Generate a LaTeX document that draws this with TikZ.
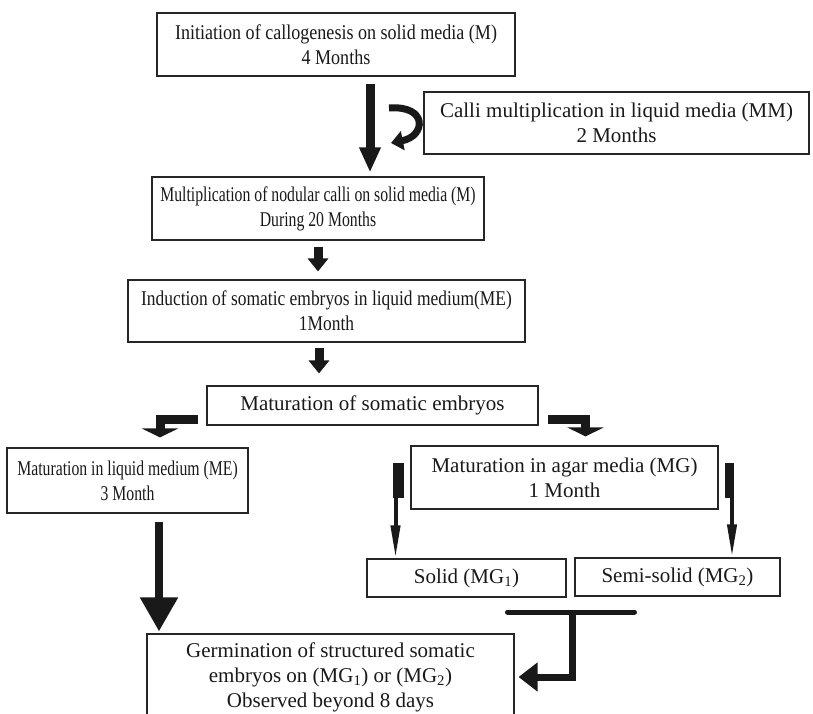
\documentclass[tikz,border=0pt]{standalone}
\usepackage{fontspec}
\setmainfont{Liberation Serif}
\newfontfamily\narrowA[FakeStretch=0.86]{Liberation Serif}
\newfontfamily\narrowB[FakeStretch=0.75]{Liberation Serif}
\newfontfamily\narrowC[FakeStretch=0.83]{Liberation Serif}
\usepackage{tikz}
\usetikzlibrary{arrows.meta}
\tikzset{>=latex}

\begin{document}
\begin{tikzpicture}[x=1pt, y=-1pt, font=\fontsize{21}{25}\selectfont]
  % B = boxes (top to bottom), fat = block arrow, stem = thin arrow under a black bar
  \tikzstyle{every node}=[draw=black!85, line width=1.1pt, align=center, inner sep=0pt, text=black!90]
  \tikzstyle{fat}=[draw=black!90, line width=9pt, -{Triangle[length=13pt, width=20pt]}]
  \tikzstyle{stem}=[draw=black!90, line width=4pt, -{Triangle[length=33pt, width=9pt]}]
  \useasboundingbox (0,0) rectangle (813,714);

  \node[minimum width=358pt, minimum height=63pt, font=\fontsize{21}{25}\narrowA] (B1) at (336,44.5) {Initiation of callogenesis on solid media (M)\\4 Months};
  \node[minimum width=385pt, minimum height=62pt] (B2) at (616.5,123) {Calli multiplication in liquid media (MM)\\2 Months};
  \node[minimum width=332pt, minimum height=63pt, font=\fontsize{21}{25}\narrowB] (B3) at (318,208.5) {Multiplication of nodular calli on solid media (M)\\During 20 Months};
  \node[minimum width=397pt, minimum height=62pt, font=\fontsize{21}{25}\narrowC] (B4) at (326.5,311) {Induction of somatic embryos in liquid medium(ME)\\1Month};
  \node[minimum width=331pt, minimum height=39pt] (B5) at (372.5,405.5) {Maturation of somatic embryos};
  \node[minimum width=241pt, minimum height=65pt, font=\fontsize{21}{25}\narrowB] (B6) at (127.5,480.5) {Maturation in liquid medium (ME)\\3 Month};
  \node[minimum width=307pt, minimum height=63pt] (B7) at (564.5,477.5) {Maturation in agar media (MG)\\1 Month};
  \node[minimum width=199pt, minimum height=38pt] (B8) at (466.5,578) {Solid (MG\textsubscript{1})};
  \node[minimum width=205pt, minimum height=38pt] (B9) at (677.5,577) {Semi-solid (MG\textsubscript{2})};
  \node[minimum width=367pt, minimum height=86pt] (B10) at (330.5,677) {Germination of structured somatic\\embryos on (MG\textsubscript{1}) or (MG\textsubscript{2})\\Observed beyond 8 days};

  \draw[fat, -{Triangle[length=25pt, width=20pt]}, shorten <=7pt, shorten >=4pt] ([xshift=34pt]B1.south) -- ([xshift=52pt]B3.north);
  \coordinate (c1) at (389,108);
  \coordinate (c2) at (391,143);
  \draw[fat, line width=7pt, -{Triangle[length=12pt, width=19pt]}] (c1) .. controls (428,105) and (426,136) .. (c2);

  \draw[fat, shorten <=6pt, shorten >=8pt] (B3.south) -- (B3.south |- B4.north);
  \draw[fat, shorten <=5pt, shorten >=12pt] ([xshift=-7.5pt]B4.south) -- ([xshift=-7.5pt]B4.south |- B5.north);

  \draw[fat, -{Triangle[length=9pt, width=36pt]}, shorten <=8pt, shorten >=10pt] ([yshift=-13.5pt]B5.west) -| ([xshift=32.5pt]B6.north);
  \draw[fat, -{Triangle[length=9pt, width=36pt]}, shorten <=9pt, shorten >=9pt] ([yshift=-13.5pt]B5.east) -| ([xshift=21pt]B7.north);

  \draw[fat, line width=8pt, -{Triangle[length=34pt, width=36pt]}, shorten <=8pt, shorten >=2pt] ([xshift=31.5pt]B6.south) -- ([xshift=31.5pt]B6.south |- B10.north);

  \coordinate (s1) at (398.5,463);
  \coordinate (s2) at (729.5,463);
  \draw[draw=black!90, line width=11pt] (s1) -- ++(0,35);
  \draw[draw=black!90, line width=9pt] (s2) -- ++(0,35);
  \draw[stem] ([xshift=-3pt]s1) -- ([xshift=-3pt]s1 |- B8.north);
  \draw[stem] ([xshift=2.5pt]s2) -- ([xshift=2.5pt]s2 |- B9.north);

  \coordinate (m1) at (507.5,612);
  \coordinate (m2) at (634.5,612);
  \coordinate (m3) at (572.5,612);
  \draw[draw=black!90, line width=5pt, line cap=round] (m1) -- (m2);
  \draw[fat, line width=7pt, -{Triangle[length=19pt, width=28pt]}, shorten >=4pt] (m3) |- (B10.east);
\end{tikzpicture}
\end{document}
